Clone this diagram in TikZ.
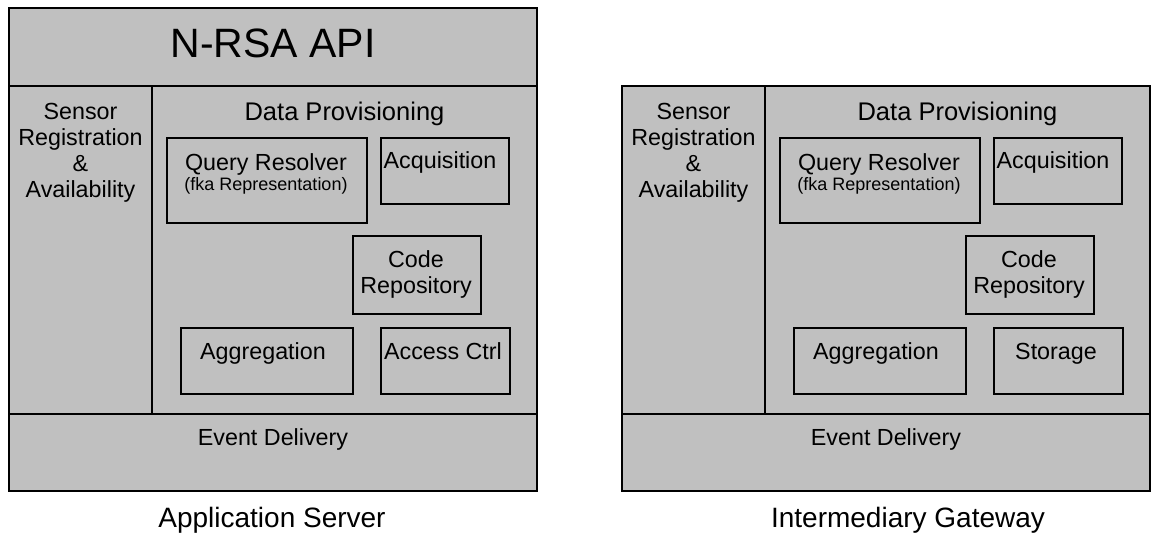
\documentclass[tikz,border=0pt]{standalone}
\usepackage{fontspec}
\setmainfont{Liberation Sans}
\usetikzlibrary{positioning}
\definecolor{Panel}{HTML}{C0C0C0}

\begin{document}
\begin{tikzpicture}[
  x=1pt, y=-1pt,
  font=\fontsize{23.3}{26}\selectfont,
  panel/.style={draw=black, line width=1.5pt, fill=Panel},
  module/.style={draw=black, line width=1.5pt, fill=Panel, anchor=north west, inner sep=0pt},
  caption/.style={anchor=base, inner sep=0pt, align=center},
  small/.style={font=\fontsize{18}{20}\selectfont},
  heading/.style={font=\fontsize{25.5}{28}\selectfont},
  title/.style={font=\fontsize{28}{32}\selectfont}
]
\useasboundingbox (0,0) rectangle (1153,535);

% application server
\draw[panel] (9,8) rectangle (537,86);
\draw[panel] (9,86) rectangle (152,414);
\draw[panel] (152,86) rectangle (537,414);
\draw[panel] (9,414) rectangle (537,491);

\node[module, minimum width=200pt, minimum height=85pt] (asQuery) at (166,137) {};
\node[module, minimum width=128pt, minimum height=66pt] (asAcq) at (380,137) {};
\node[module, minimum width=128pt, minimum height=78pt] (asCode) at (352,235) {};
\node[module, minimum width=172pt, minimum height=66pt] (asAggr) at (180,327) {};
\node[module, minimum width=129pt, minimum height=66pt] (asAccess) at (380,327) {};

% multi-line captions sit on their last line
\node[caption, font=\fontsize{41}{45}\selectfont] (asApi) at (273,57) {N-RSA API};
\node[caption] (asSensor) at (80.5,197) {Sensor\\Registration\\\&\\Availability};
\node[caption, heading] (asData) at (344.5,120) {Data Provisioning};
\node[caption] (asQueryT) at (266,170) {Query Resolver};
\node[caption, small] (asQueryS) at (266,190) {(fka Representation)};
\node[caption] (asAcqT) at (440,168) {Acquisition};
\node[caption] (asCodeT) at (416,293) {Code\\Repository};
\node[caption] (asAggrT) at (263,359) {Aggregation};
\node[caption] (asAccessT) at (443,359) {Access Ctrl};
\node[caption] (asEvent) at (273,445) {Event Delivery};
\node[caption, title] (asName) at (272,527) {Application Server};

% intermediary gateway
\begin{scope}[xshift=613pt]
\draw[panel] (9,86) rectangle (152,414);
\draw[panel] (152,86) rectangle (537,414);
\draw[panel] (9,414) rectangle (537,491);

\node[module, minimum width=200pt, minimum height=85pt] (igQuery) at (166,137) {};
\node[module, minimum width=128pt, minimum height=66pt] (igAcq) at (380,137) {};
\node[module, minimum width=128pt, minimum height=78pt] (igCode) at (352,235) {};
\node[module, minimum width=172pt, minimum height=66pt] (igAggr) at (180,327) {};
\node[module, minimum width=129pt, minimum height=66pt] (igStore) at (380,327) {};

\node[caption] (igSensor) at (80.5,197) {Sensor\\Registration\\\&\\Availability};
\node[caption, heading] (igData) at (344.5,120) {Data Provisioning};
\node[caption] (igQueryT) at (266,170) {Query Resolver};
\node[caption, small] (igQueryS) at (266,190) {(fka Representation)};
\node[caption] (igAcqT) at (440,168) {Acquisition};
\node[caption] (igCodeT) at (416,293) {Code\\Repository};
\node[caption] (igAggrT) at (263,359) {Aggregation};
\node[caption] (igStoreT) at (443,359) {Storage};
\node[caption] (igEvent) at (273,445) {Event Delivery};
\node[caption, title] (igName) at (295,527) {Intermediary Gateway};
\end{scope}
\end{tikzpicture}
\end{document}
